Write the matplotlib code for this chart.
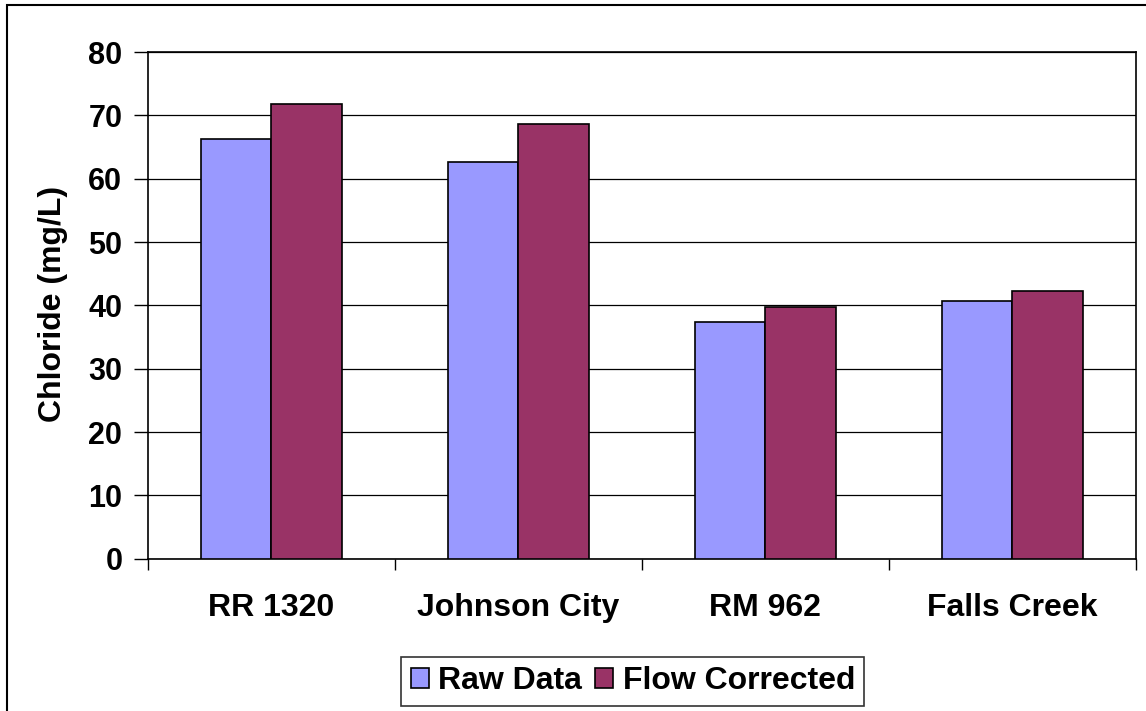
import numpy as np
import matplotlib.pyplot as plt
from matplotlib.patches import Rectangle

sites = ["RR 1320", "Johnson City", "RM 962", "Falls Creek"]
raw_data = [66.3, 62.7, 37.4, 40.7]
flow_corrected = [71.8, 68.7, 39.7, 42.2]

RAW_COLOR = "#9999FF"
FLOW_COLOR = "#993366"

plt.rcParams["font.family"] = ["Liberation Sans", "DejaVu Sans"]
plt.rcParams["font.weight"] = "bold"

fig = plt.figure(figsize=(11.46, 7.11), dpi=100)
ax = fig.add_axes([148 / 1146, 1 - 558.7 / 711, (1135.7 - 148) / 1146, (558.7 - 52) / 711])

x = np.arange(len(sites))
width = 0.286
ax.bar(x - width / 2, raw_data, width, color=RAW_COLOR, edgecolor="black",
       linewidth=1.2, label="Raw Data", zorder=3)
ax.bar(x + width / 2, flow_corrected, width, color=FLOW_COLOR, edgecolor="black",
       linewidth=1.2, label="Flow Corrected", zorder=3)

ax.set_xlim(-0.5, len(sites) - 0.5)
ax.set_ylim(0, 80)
ax.set_yticks(range(0, 81, 10))
ax.yaxis.grid(True, color="black", linewidth=0.9, zorder=0)

# category boundaries carry the tick marks, names sit on minor ticks
ax.set_xticks(np.arange(-0.5, len(sites), 1.0))
ax.set_xticklabels([])
ax.set_xticks(x, minor=True)
ax.set_xticklabels(sites, minor=True, fontsize=23, fontweight="bold")
ax.tick_params(axis="x", which="major", direction="out", length=8, width=1)
ax.tick_params(axis="x", which="minor", length=0, pad=24.5)
ax.tick_params(axis="y", direction="out", length=10, width=1, labelsize=22, pad=8.5)

for side in ["left", "right", "top", "bottom"]:
    ax.spines[side].set_color("black")
    ax.spines[side].set_linewidth(1.2)

fig.text(53 / 1146, 1 - 304 / 711, "Chloride (mg/L)", rotation=90,
         ha="center", va="center", fontsize=23, fontweight="bold")

leg = fig.legend(loc="center", bbox_to_anchor=(632.9 / 1146, 1 - 681.2 / 711), ncol=2,
                 fontsize=23, frameon=True, fancybox=False, edgecolor="black",
                 handlelength=0.56, handleheight=0.56, handletextpad=0.3,
                 columnspacing=0.4, borderpad=0.3, borderaxespad=0)
leg.get_frame().set_linewidth(1.2)

# outer chart border (left and top edges fall inside the image)
fig.patches.append(Rectangle((7 / 1146, -0.05), 1.2, 1 - 5 / 711 + 0.05,
                             transform=fig.transFigure, fill=False,
                             edgecolor="black", linewidth=1.5))

fig.savefig("out.png", dpi=100)
